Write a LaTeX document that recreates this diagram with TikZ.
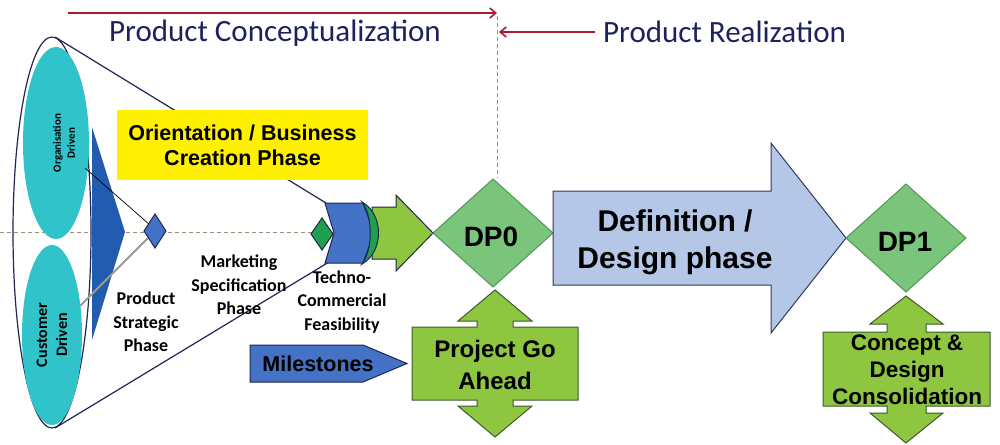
\documentclass[tikz,border=0pt]{standalone}
\usepackage{fontspec}
\setmainfont{Liberation Sans}
\newfontfamily\calfont{Carlito}
\usetikzlibrary{arrows.meta}
\definecolor{navy}{RGB}{32,38,84}
\definecolor{darkred}{RGB}{170,28,52}
\definecolor{titleblue}{RGB}{30,34,92}
\definecolor{tan}{RGB}{160,140,120}
\definecolor{cyanfill}{RGB}{48,196,202}
\definecolor{triblue}{RGB}{34,92,176}
\definecolor{midblue}{RGB}{68,114,196}
\definecolor{dgreen}{RGB}{30,160,78}
\definecolor{lgreen}{RGB}{142,198,64}
\definecolor{dpgreen}{RGB}{122,196,124}
\definecolor{dpedge}{RGB}{84,150,84}
\definecolor{lblue}{RGB}{180,199,231}
\definecolor{gedge}{RGB}{60,90,50}
\definecolor{yel}{RGB}{255,240,0}
\begin{document}
\begin{tikzpicture}[x=1pt,y=-1pt,
  redarrow/.style={draw=darkred,line width=2pt,-{Straight Barb[length=6pt,width=10pt,line width=1.6pt]}},
  titletext/.style={text=titleblue,font=\calfont\fontsize{31}{36}\selectfont,inner sep=0pt},
  dashline/.style={draw=tan,line width=1pt,dash pattern=on 4pt off 3pt},
  navyline/.style={draw=navy,line width=1.2pt},
  outl/.style={draw=navy,line width=1pt,line join=miter},
  gout/.style={draw=gedge,line width=1pt,line join=miter},
  phase/.style={font=\calfont\bfseries\fontsize{18}{23.5}\selectfont,align=center,inner sep=0pt},
  boxtext/.style={font=\bfseries,align=center,inner sep=0pt}
]
\useasboundingbox (0,0) rectangle (1000,444);
\fill[white] (0,0) rectangle (1000,444);

% top arrows and titles
\coordinate (ra1) at (68,13);
\coordinate (ra2) at (497,13);
\coordinate (rb1) at (595,32);
\coordinate (rb2) at (499,32);
\draw[redarrow] (ra1) -- (ra2);
\draw[redarrow] (rb1) -- (rb2);
\node[titletext,anchor=west] (conc) at (109,33) {Product Conceptualization};
\node[titletext,anchor=west] (real) at (603,32) {Product Realization};

% dashed guide lines
\coordinate (v1) at (497,16);
\coordinate (v2) at (497,178);
\draw[dashline] (v1) -- (v2);
\coordinate (h1) at (0,232);
\coordinate (h2) at (435,232);
\draw[dashline] (h1) -- (h2);

% funnel lines
\coordinate (etop) at (55,37);
\coordinate (ebot) at (55,428);
\coordinate (chtl) at (326,203);
\coordinate (chbl) at (329,262);
\draw[navyline] (etop) -- (chtl);
\draw[navyline] (ebot) -- (chbl);

% big ellipse
\draw[navyline] (52,232.5) ellipse [x radius=39, y radius=195.5];

% cyan ellipses
\fill[cyanfill] (56,143) ellipse [x radius=33, y radius=96];
\fill[cyanfill] (52,335) ellipse [x radius=30, y radius=90];
\node[rotate=90,font=\calfont\bfseries\fontsize{11}{14}\selectfont,align=center,inner sep=0pt] (org) at (64,143) {Organisation\\Driven};
\node[rotate=90,font=\calfont\bfseries\fontsize{16}{20}\selectfont,align=center,inner sep=0pt] (cust) at (52,335) {Customer\\Driven};

% blue triangle
\fill[triblue] (92,127) -- (125,232) -- (92,340) -- cycle;

% connector lines to diamond
\coordinate (orgpt) at (85,168);
\coordinate (custpt) at (80,306);
\draw[black,line width=0.7pt] (orgpt) -- (150,225);
\draw[gray!80,line width=2pt] (custpt) -- (148,238);
% small blue diamond
\draw[outl,fill=midblue] (155,214) -- (166,231) -- (155,248) -- (144,231) -- cycle;

% yellow box
\node[fill=yel,minimum width=251pt,minimum height=70pt,inner sep=0pt,
      font=\bfseries\fontsize{21.5}{25}\selectfont,align=center] (yb) at (242.5,145) {Orientation / Business\\Creation Phase};

% phase labels
\node[phase] (psp) at (146,322) {Product\\Strategic\\Phase};
\node[phase] (msp) at (239,285) {Marketing\\Specification\\Phase};
\node[phase] (tcf) at (342,302) {Techno-\\Commercial\\Feasibility};

% small green diamond
\draw[outl,fill=dgreen] (322,218) -- (333,234) -- (322,250) -- (311,234) -- cycle;

% green arrow into DP0
\draw[outl,fill=lgreen] (372,207) -- (396,207) -- (396,195) -- (433,233) -- (396,271) -- (396,259) -- (372,259) -- cycle;
% chevron
\draw[outl,fill=midblue] (325,203) -- (363,203) -- (374,233) -- (363,263) -- (325,263) -- (334,233) -- cycle;
% green crescent
\draw[outl,fill=dgreen] (362,202) .. controls (384,214) and (384,252) .. (362,264)
   .. controls (373,250) and (373,216) .. cycle;

% DP0
\draw[draw=dpedge,line width=1pt,fill=dpgreen] (433,233) -- (493,179) -- (553,233) -- (493,287) -- cycle;
\node[boxtext,font=\bfseries\fontsize{28}{32}\selectfont] (dp0) at (491,237) {DP0};

% definition arrow
\draw[outl,draw=navy!80!gray,fill=lblue] (553,191) -- (771,191) -- (771,143) -- (846,238) -- (771,333) -- (771,285) -- (553,285) -- cycle;
\node[boxtext,font=\bfseries\fontsize{30}{37}\selectfont] (def) at (675,242) {Definition /\\Design phase};

% DP1
\draw[draw=dpedge,line width=1pt,fill=dpgreen] (846,238) -- (906,184) -- (966,238) -- (906,292) -- cycle;
\node[boxtext,font=\bfseries\fontsize{28}{32}\selectfont] (dp1) at (905,242) {DP1};

% Milestones
\draw[outl,fill=midblue] (250,345) -- (363,345) -- (407,363.5) -- (363,382) -- (250,382) -- cycle;
\node[boxtext,font=\bfseries\fontsize{21.5}{25}\selectfont] (mil) at (318,364) {Milestones};

% Project Go Ahead up-down callout
\draw[gout,fill=lgreen] (495,290) -- (532,321) -- (513,321) -- (513,327) -- (578,327) -- (578,400)
  -- (513,400) -- (513,406) -- (532,406) -- (495,437) -- (458,406) -- (477,406) -- (477,400)
  -- (412,400) -- (412,327) -- (477,327) -- (477,321) -- (458,321) -- cycle;
\node[boxtext,font=\bfseries\fontsize{24}{32}\selectfont] (pga) at (495,365) {Project Go\\Ahead};

% Concept & Design Consolidation up-down callout
\draw[gout,fill=lgreen] (906,296) -- (943,324) -- (926,324) -- (926,332) -- (990,332) -- (990,406)
  -- (926,406) -- (926,413) -- (943,413) -- (906,443) -- (870,413) -- (887,413) -- (887,406)
  -- (823,406) -- (823,332) -- (887,332) -- (887,324) -- (870,324) -- cycle;
\node[boxtext,font=\bfseries\fontsize{22.5}{27}\selectfont] (cdc) at (907,370) {Concept \&\\Design\\Consolidation};
\end{tikzpicture}
\end{document}
